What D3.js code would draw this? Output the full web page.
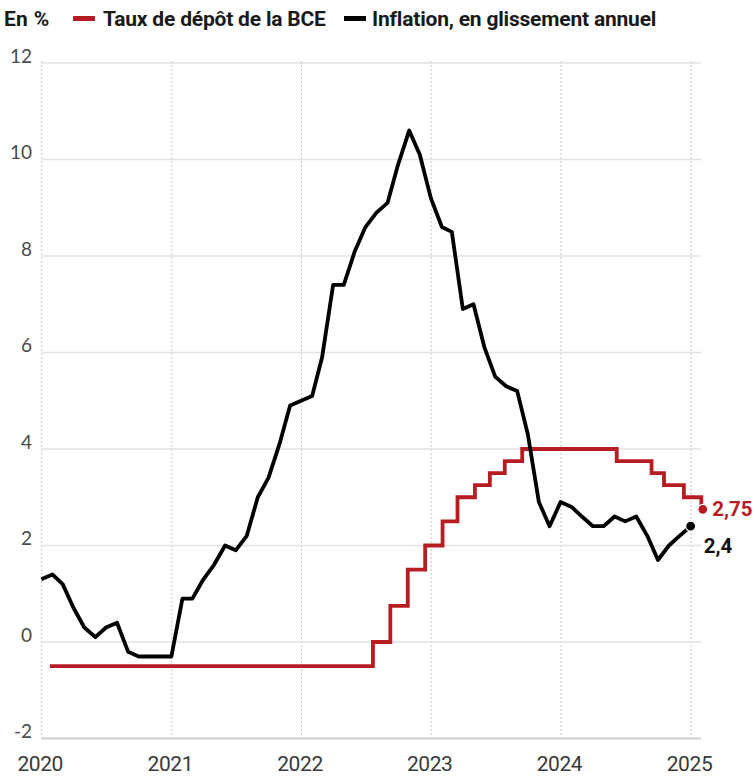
<!DOCTYPE html>
<html>
<head>
<meta charset="utf-8">
<script src="https://cdn.jsdelivr.net/npm/d3@7"></script>
<style>
  html, body { margin: 0; padding: 0; background: #fff; }
  svg { display: block; }
</style>
</head>
<body>
<svg id="chart" width="756" height="779"></svg>
<script>
// ---------- DATA ----------
const inflationMonths = [
  "2019-12",
  "2020-01","2020-02","2020-03","2020-04","2020-05","2020-06","2020-07","2020-08","2020-09","2020-10","2020-11","2020-12",
  "2021-01","2021-02","2021-03","2021-04","2021-05","2021-06","2021-07","2021-08","2021-09","2021-10","2021-11","2021-12",
  "2022-01","2022-02","2022-03","2022-04","2022-05","2022-06","2022-07","2022-08","2022-09","2022-10","2022-11","2022-12",
  "2023-01","2023-02","2023-03","2023-04","2023-05","2023-06","2023-07","2023-08","2023-09","2023-10","2023-11","2023-12",
  "2024-01","2024-02","2024-03","2024-04","2024-05","2024-06","2024-07","2024-08","2024-09","2024-10","2024-11","2024-12"
];
const inflationValues = [
  1.3,
  1.4, 1.2, 0.7, 0.3, 0.1, 0.3, 0.4, -0.2, -0.3, -0.3, -0.3, -0.3,
  0.9, 0.9, 1.3, 1.6, 2.0, 1.9, 2.2, 3.0, 3.4, 4.1, 4.9, 5.0,
  5.1, 5.9, 7.4, 7.4, 8.1, 8.6, 8.9, 9.1, 9.9, 10.6, 10.1, 9.2,
  8.6, 8.5, 6.9, 7.0, 6.1, 5.5, 5.3, 5.2, 4.3, 2.9, 2.4, 2.9,
  2.8, 2.6, 2.4, 2.4, 2.6, 2.5, 2.6, 2.2, 1.7, 2.0, 2.2, 2.4
];
// ECB deposit facility rate, by decision date
const rateDates = [
  "2020-01-24","2022-07-21","2022-09-08","2022-10-27","2022-12-15",
  "2023-02-02","2023-03-16","2023-05-04","2023-06-15","2023-07-27","2023-09-14",
  "2024-06-06","2024-09-12","2024-10-17","2024-12-12","2025-01-30"
];
const rateValues = [
  -0.5, 0, 0.75, 1.5, 2.0,
  2.5, 3.0, 3.25, 3.5, 3.75, 4.0,
  3.75, 3.5, 3.25, 3.0, 2.75
];
const yTicks = [-2, 0, 2, 4, 6, 8, 10, 12];
const yearTicks = ["2020","2021","2022","2023","2024","2025"];
const legendTitle = "En %";
const seriesNames = ["Taux de dépôt de la BCE", "Inflation, en glissement annuel"];
const endLabels = ["2,75", "2,4"];

// ---------- SETUP ----------
const RED = "#b71c22";
const BLACK = "#000";
const svg = d3.select("#chart");

const parseDay = d3.timeParse("%Y-%m-%d");
const parseMonth = d3.timeParse("%Y-%m");
// monthly values are plotted at the end of their month
const inflation = inflationMonths.map((m, i) => ({
  date: d3.timeDay.offset(d3.timeMonth.offset(parseMonth(m), 1), -1),
  value: inflationValues[i]
}));
const rate = rateDates.map((d, i) => ({ date: parseDay(d), value: rateValues[i] }));

const x = d3.scaleTime()
  .domain([parseDay("2020-01-01"), parseDay("2025-01-01")])
  .range([41.7, 691]);
const y = d3.scaleLinear().domain([-2, 12]).range([738.5, 63]);

const gridRight = 701;

// vertical dotted year gridlines
const yearDates = yearTicks.map(t => parseDay(t + "-01-01"));
svg.append("g").selectAll("line").data(yearDates).join("line")
  .attr("x1", d => x(d)).attr("x2", d => x(d))
  .attr("y1", y(12) - 2).attr("y2", y(-2))
  .attr("stroke", "#c8c8c8").attr("stroke-width", 1)
  .attr("stroke-dasharray", "2,2");

// horizontal gridlines
svg.append("g").selectAll("line").data(yTicks).join("line")
  .attr("x1", x(yearDates[0])).attr("x2", gridRight)
  .attr("y1", d => y(d)).attr("y2", d => y(d))
  .attr("stroke", d => d === -2 ? "#d0d0d0" : "#e2e2e2")
  .attr("stroke-width", d => d === -2 ? 2 : 1.5);

// y axis labels
const yAxis = d3.axisLeft(y).tickValues(yTicks).tickSize(0).tickPadding(0)
  .tickFormat(d => String(d));
const gy = svg.append("g").attr("transform", "translate(32,0)").call(yAxis);
gy.select(".domain").remove();
gy.selectAll("text")
  .attr("fill", "#4a4a4a")
  .style("font-family", "Lato, 'Open Sans', sans-serif")
  .style("font-size", "19px")
  .attr("dy", "-0.05em");

// x axis labels
const xAxis = d3.axisBottom(x).tickValues(yearDates).tickSize(0).tickPadding(0)
  .tickFormat(d3.timeFormat("%Y"));
const gx = svg.append("g").attr("transform", "translate(-2,755)").call(xAxis);
gx.select(".domain").remove();
gx.selectAll("text")
  .attr("fill", "#3a3a3a")
  .style("font-family", "Roboto, sans-serif")
  .style("font-size", "21px")
  .style("letter-spacing", "-0.4px")
  .attr("dy", "0.75em");

// lines
const rateLine = d3.line().x(d => x(d.date)).y(d => y(d.value)).curve(d3.curveStepAfter);
svg.append("path").datum(rate)
  .attr("d", rateLine)
  .attr("fill", "none").attr("stroke", RED).attr("stroke-width", 3.8)
  .attr("stroke-linejoin", "miter");

const inflLine = d3.line().x(d => x(d.date)).y(d => y(d.value));
svg.append("path").datum(inflation)
  .attr("d", inflLine)
  .attr("fill", "none").attr("stroke", BLACK).attr("stroke-width", 3.8)
  .attr("stroke-linejoin", "round");

// end dots + labels
const lastRate = rate[rate.length - 1];
const lastInfl = inflation[inflation.length - 1];
svg.append("circle").attr("cx", x(lastRate.date) + 1.5).attr("cy", y(lastRate.value))
  .attr("r", 5).attr("fill", RED).attr("stroke", "#fff").attr("stroke-width", 1.2);
svg.append("circle").attr("cx", x(lastInfl.date)).attr("cy", y(lastInfl.value))
  .attr("r", 5).attr("fill", BLACK).attr("stroke", "#fff").attr("stroke-width", 1.2);

const labelFont = "Roboto, sans-serif";
svg.append("text").text(endLabels[0])
  .attr("x", x(lastRate.date) + 11).attr("y", y(lastRate.value) + 7)
  .attr("fill", RED).style("font-family", labelFont).style("font-weight", 700)
  .style("font-size", "20.5px");
svg.append("text").text(endLabels[1])
  .attr("x", x(lastInfl.date) + 13).attr("y", y(lastInfl.value) + 27)
  .attr("fill", "#111").style("font-family", labelFont).style("font-weight", 700)
  .style("font-size", "20.5px");

// legend
const legend = svg.append("g").style("font-family", labelFont).style("font-weight", 700)
  .style("font-size", "21px").attr("fill", "#1a1a1a");
legend.append("text").text(legendTitle).attr("x", 4).attr("y", 26).style("letter-spacing", "0.3px");
legend.append("rect").attr("x", 73).attr("y", 16).attr("width", 22).attr("height", 5).attr("fill", RED);
legend.append("text").text(seriesNames[0]).attr("x", 103).attr("y", 26).style("letter-spacing", "-0.2px");
legend.append("rect").attr("x", 344).attr("y", 16).attr("width", 22).attr("height", 5).attr("fill", BLACK);
legend.append("text").text(seriesNames[1]).attr("x", 372).attr("y", 26).style("letter-spacing", "-0.2px");
</script>
</body>
</html>
